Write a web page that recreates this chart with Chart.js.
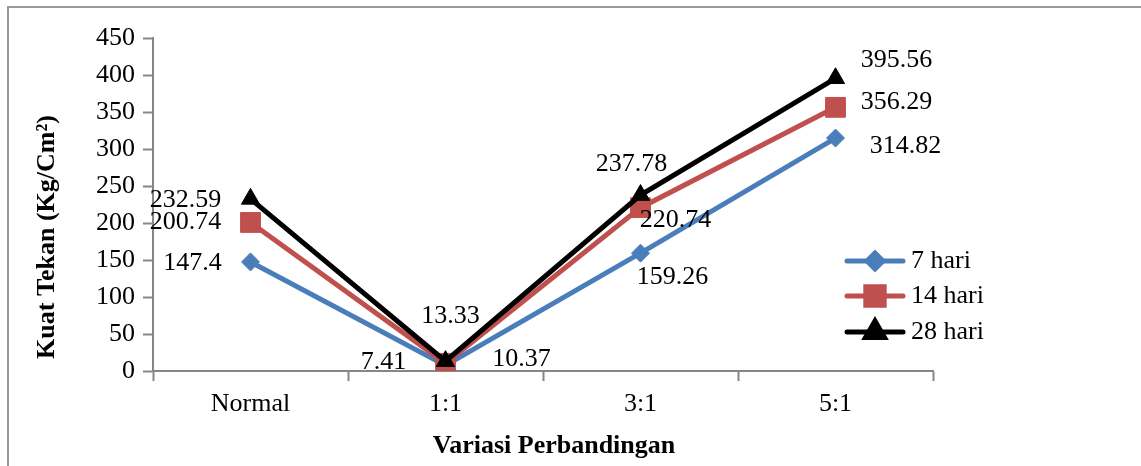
<!DOCTYPE html>
<html>
<head>
<meta charset="utf-8">
<script src="https://cdn.jsdelivr.net/npm/chart.js@4.4.1/dist/chart.umd.min.js"></script>
<style>
  html, body { margin: 0; padding: 0; background: #fff; }
  #wrap { position: relative; width: 1141px; height: 466px; }
</style>
</head>
<body>
<div id="wrap"><canvas id="chart"></canvas></div>
<script>
// Data
const categories = ['Normal', '1:1', '3:1', '5:1'];
const seriesNames = ['7 hari', '14 hari', '28 hari'];
const hari7 = [147.4, 7.41, 159.26, 314.82];
const hari14 = [200.74, 10.37, 220.74, 356.29];
const hari28 = [232.59, 13.33, 237.78, 395.56];

const yTitle = 'Kuat Tekan (Kg/Cm²)';
const xTitle = 'Variasi Perbandingan';

// Styling
const FONT = "'Liberation Serif', 'Times New Roman', serif";
const AXIS_GREY = '#868686';
const colors = ['#4a7ebb', '#c0504d', '#000000'];
const pointStyles = ['rectRot', 'rect', 'triangle'];
const pointRadii = [9, 14, 10.5];

// label offsets (px) from each point, per series
const labelOffsets = [
    [[-58, 1], [-62, -3], [32, 24], [70, 8]],
    [[-65, 0], [76, -4], [35, 13], [61, -5]],
    [[-65, 1], [5, -45], [-9, -31], [61, -18]]
];

const seriesValues = [hari7, hari14, hari28];

// Frame, axis titles, point labels and legend
const decorPlugin = {
    id: 'decor',
    beforeDraw(chart) {
        const ctx = chart.ctx;
        ctx.save();
        ctx.strokeStyle = '#9a9a9a';
        ctx.lineWidth = 2;
        ctx.beginPath();
        ctx.moveTo(8, 466);
        ctx.lineTo(8, 7);
        ctx.lineTo(1141, 7);
        ctx.stroke();
        ctx.restore();
    },
    afterDraw(chart) {
        const ctx = chart.ctx;
        ctx.save();
        ctx.fillStyle = '#000';
        ctx.textAlign = 'center';
        ctx.textBaseline = 'middle';

        // axis titles
        ctx.font = 'bold 26px ' + FONT;
        ctx.fillText(xTitle, 554, 446);
        ctx.save();
        ctx.translate(47, 237);
        ctx.rotate(-Math.PI / 2);
        ctx.fillText(yTitle, 0, 0);
        ctx.restore();

        // value labels
        ctx.font = '26px ' + FONT;
        chart.data.datasets.forEach((ds, i) => {
            const meta = chart.getDatasetMeta(i);
            meta.data.forEach((pt, j) => {
                const off = labelOffsets[i][j];
                ctx.fillText(String(ds.data[j]), pt.x + off[0], pt.y + off[1]);
            });
        });

        // legend
        const legendX = 847, legendY = [261, 296, 332];
        seriesNames.forEach((name, i) => {
            const y = legendY[i];
            ctx.strokeStyle = colors[i];
            ctx.fillStyle = colors[i];
            ctx.lineWidth = 5;
            ctx.lineCap = 'round';
            ctx.beginPath();
            ctx.moveTo(legendX, y);
            ctx.lineTo(legendX + 56, y);
            ctx.stroke();
            Chart.helpers.drawPoint(ctx, {
                pointStyle: pointStyles[i],
                radius: [8, 13, 11][i],
                rotation: 0,
                borderWidth: 1
            }, legendX + 28, y);
            ctx.fillStyle = '#000';
            ctx.textAlign = 'left';
            ctx.font = '26px ' + FONT;
            ctx.fillText(name, legendX + 64, y);
        });
        ctx.restore();
    }
};

const datasets = seriesNames.map((name, i) => ({
    label: name,
    data: seriesValues[i],
    borderColor: colors[i],
    backgroundColor: colors[i],
    borderWidth: 5,
    pointStyle: pointStyles[i],
    pointRadius: pointRadii[i],
    pointHoverRadius: pointRadii[i],
    pointBorderWidth: 1,
    pointBorderColor: colors[i],
    pointBackgroundColor: colors[i],
    tension: 0,
    fill: false,
    order: 3 - i
}));

new Chart(document.getElementById('chart'), {
    type: 'line',
    data: { labels: categories, datasets: datasets },
    options: {
        responsive: true,
        maintainAspectRatio: false,
        animation: false,
        layout: { padding: { left: 0, right: 208, top: 38, bottom: 0 } },
        plugins: {
            legend: { display: false },
            tooltip: { enabled: false }
        },
        scales: {
            x: {
                type: 'category',
                offset: true,
                grid: {
                    offset: true,
                    drawOnChartArea: false,
                    drawTicks: true,
                    tickLength: 10,
                    tickWidth: 2,
                    tickColor: AXIS_GREY
                },
                border: { color: AXIS_GREY, width: 2 },
                ticks: {
                    color: '#000',
                    padding: 8,
                    maxRotation: 0,
                    font: { family: FONT, size: 26 }
                },
                afterFit(scale) { scale.height = 95; }
            },
            y: {
                min: 0,
                max: 450,
                grid: {
                    drawOnChartArea: false,
                    drawTicks: true,
                    tickLength: 10,
                    tickWidth: 2,
                    tickColor: AXIS_GREY
                },
                border: { color: AXIS_GREY, width: 2 },
                ticks: {
                    stepSize: 50,
                    color: '#000',
                    padding: 8,
                    font: { family: FONT, size: 26 }
                },
                afterFit(scale) { scale.width = 153; }
            }
        }
    },
    plugins: [decorPlugin]
});
</script>
</body>
</html>
